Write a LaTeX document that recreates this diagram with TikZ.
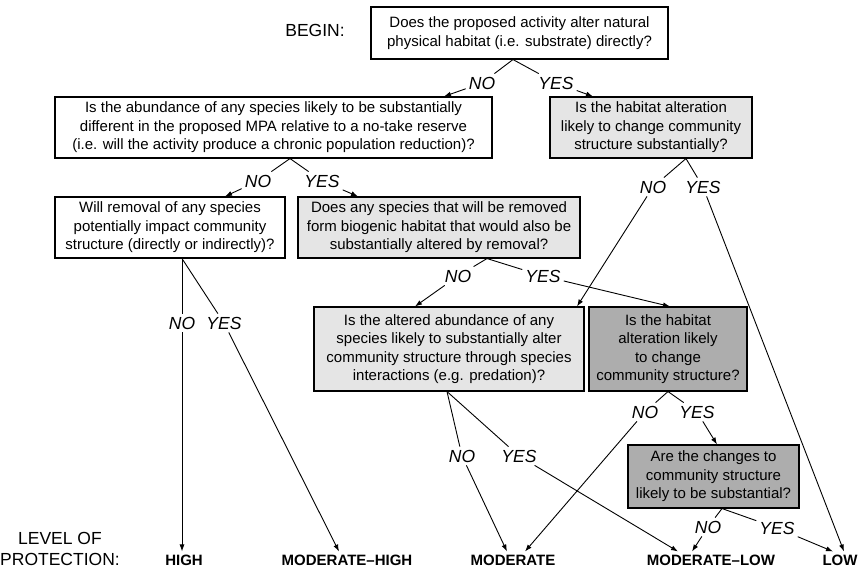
\documentclass[tikz,border=0pt]{standalone}
\usepackage{fontspec}
\setmainfont{Liberation Sans}
\usetikzlibrary{arrows.meta}

\begin{document}
\begin{tikzpicture}[x=1pt, y=-1pt,
  question/.style = {draw, line width=1.1pt, align=center, inner sep=2pt, font=\fontsize{15}{18.5}\selectfont},
  pale/.style = {question, fill=gray!20},
  dark/.style = {question, fill=gray!64},
  answer/.style = {font=\fontsize{17.5}{20}\selectfont\itshape, inner sep=3pt},
  level/.style = {font=\fontsize{15}{18}\selectfont\bfseries, inner sep=3pt},
  heading/.style = {font=\fontsize{17.5}{21}\selectfont, align=center, inner sep=0pt},
  branch/.style = {line width=0.9pt},
  flow/.style = {line width=0.9pt, -{Latex[length=7pt, width=5pt]}}]

\useasboundingbox (0,0) rectangle (868,569);

\node[heading] (begin) at (315,30) {BEGIN:};
\node[question, minimum width=297pt, minimum height=52pt] (q1) at (519.5,33) {Does the proposed activity alter natural\\physical habitat (i.e. substrate) directly?};
\node[question, minimum width=437pt, minimum height=61pt] (q2) at (273.5,127.5) {Is the abundance of any species likely to be substantially\\different in the proposed MPA relative to a no-take reserve\\(i.e. will the activity produce a chronic population reduction)?};
\node[pale, minimum width=202pt, minimum height=61pt] (q3) at (651,127.5) {Is the habitat alteration\\likely to change community\\structure substantially?};
\node[question, minimum width=230pt, minimum height=61pt] (q4) at (170,227.5) {Will removal of any species\\potentially impact community\\structure (directly or indirectly)?};
\node[pale, minimum width=282pt, minimum height=61pt] (q5) at (439,227.5) {Does any species that will be removed\\form biogenic habitat that would also be\\substantially altered by removal?};
\node[pale, minimum width=270pt, minimum height=84pt] (q6) at (449,349) {Is the altered abundance of any\\species likely to substantially alter\\community structure through species\\interactions (e.g. predation)?};
\node[dark, minimum width=158pt, minimum height=84pt] (q7) at (668,349) {Is the habitat\\alteration likely\\to change\\community structure?};
\node[dark, minimum width=171pt, minimum height=63pt] (q8) at (713.5,476.5) {Are the changes to\\community structure\\likely to be substantial?};

\node[heading, anchor=west] (protect) at (0,549) {LEVEL OF\\PROTECTION:};
\node[level] (high) at (184,560) {HIGH};
\node[level] (modhigh) at (347,560) {MODERATE--HIGH};
\node[level] (moderate) at (513,560) {MODERATE};
\node[level] (modlow) at (711,560) {MODERATE--LOW};
\node[level] (low) at (840,560) {LOW};

\node[answer] (n1) at (482,83) {NO};
\node[answer] (y1) at (556,83) {YES};
\node[answer] (n2) at (258,181) {NO};
\node[answer] (y2) at (322,181) {YES};
\node[answer] (n3) at (653,187) {NO};
\node[answer] (y3) at (703,187) {YES};
\node[answer] (n4) at (182,323) {NO};
\node[answer] (y4) at (224,323) {YES};
\node[answer] (n5) at (458,276) {NO};
\node[answer] (y5) at (543,276) {YES};
\node[answer] (n6) at (462,456) {NO};
\node[answer] (y6) at (519,456) {YES};
\node[answer] (n7) at (645,412) {NO};
\node[answer] (y7) at (697,412) {YES};
\node[answer] (n8) at (708,527) {NO};
\node[answer] (y8) at (777,528) {YES};

\draw[branch] ([xshift=-6.5pt]q1.south) -- (n1);
\draw[branch] ([xshift=-6.5pt]q1.south) -- (y1);
\draw[flow] (n1) -- ([xshift=170.5pt]q2.north);
\draw[flow] (y1) -- ([xshift=-58pt]q3.north);

\draw[branch] ([xshift=16.5pt]q2.south) -- (n2);
\draw[branch] ([xshift=16.5pt]q2.south) -- (y2);
\draw[flow] (n2) -- ([xshift=55pt]q4.north);
\draw[flow] (y2) -- ([xshift=-81pt]q5.north);

\draw[branch] ([xshift=35pt]q3.south) -- (n3);
\draw[branch] ([xshift=35pt]q3.south) -- (y3);
\draw[flow] (n3) -- ([xshift=128pt]q6.north);
\draw[flow] (y3) -- ([xshift=4pt]low.north);

\draw[branch] ([xshift=12pt]q4.south) -- (n4);
\draw[branch] ([xshift=12pt]q4.south) -- (y4);
\draw[flow] (n4) -- ([xshift=-2pt]high.north);
\draw[flow] (y4) -- ([xshift=-8pt]modhigh.north);

\draw[branch] ([xshift=48pt]q5.south) -- (n5);
\draw[branch] ([xshift=48pt]q5.south) -- (y5);
\draw[flow] (n5) -- ([xshift=-34pt]q6.north);
\draw[flow] (y5) -- ([xshift=2pt]q7.north);

\draw[branch] ([xshift=-2pt]q6.south) -- (n6);
\draw[branch] ([xshift=-2pt]q6.south) -- (y6);
\draw[flow] (n6) -- ([xshift=-6pt]moderate.north);
\draw[flow] (y6) -- ([xshift=-33pt]modlow.north);

\draw[branch] (q7.south) -- (n7);
\draw[branch] (q7.south) -- (y7);
\draw[flow] (n7) -- ([xshift=12pt]moderate.north);
\draw[flow] (y7) -- ([xshift=3.5pt]q8.north);

\draw[branch] ([xshift=8.5pt]q8.south) -- (n8);
\draw[branch] ([xshift=8.5pt]q8.south) -- (y8);
\draw[flow] (n8) -- ([xshift=-19pt]modlow.north);
\draw[flow] (y8) -- ([xshift=-7pt]low.north);
\end{tikzpicture}
\end{document}
